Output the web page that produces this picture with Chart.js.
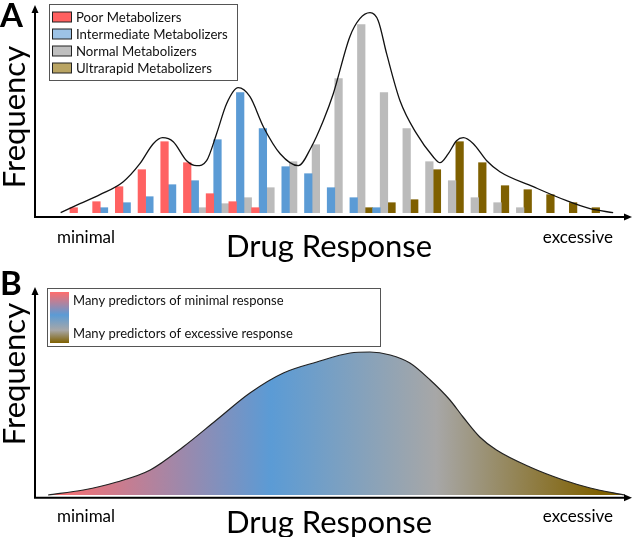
<!DOCTYPE html>
<html>
<head>
<meta charset="utf-8">
<title>Drug response distributions</title>
<script src="https://cdn.jsdelivr.net/npm/chart.js@4.4.1/dist/chart.umd.min.js"></script>
<style>
  html, body { margin: 0; padding: 0; background: #fff; }
  #wrap { width: 636px; height: 537px; }
  canvas { display: block; }
</style>
</head>
<body>
<div id="wrap">
  <canvas id="panelA" width="636" height="265"></canvas>
  <canvas id="panelB" width="636" height="272"></canvas>
</div>
<script>
// Response bins (panel A), left = minimal, right = excessive
const bins = [0, 1, 2, 3, 4, 5, 6, 7, 8, 9, 10, 11, 12, 13, 14, 15, 16, 17, 18, 19, 20, 21, 22, 23];

// Bar heights per bin for each metabolizer group
const poorValues =         [5, 11, 26, 43, 71, 50, 19, 11, 5, null, null, null, null, null, null, null, null, null, null, null, null, null, null, null];
const intermediateValues = [null, 5, 10, 16, 28, 32, 73, 120, 84, 46, 39, 25, 15, 5, null, null, null, null, null, null, null, null, null, null];
const normalValues =       [null, null, null, null, null, 5, 9, 15, 25, 51, 68, 134, 188, 120, 84, 51, 32, 15, 10, 5, null, null, null, null];
const ultrarapidValues =   [null, null, null, null, null, null, null, null, null, null, null, null, null, 5, 10, 13, 43, 71, 50, 27, 23, 18, 10, 5];

// Envelope curve over the whole population (panel A)
const envelopeX = [-0.91, -0.06, 0.82, 1.85, 2.58, 3.17, 3.58, 4.05, 4.64, 5.08, 5.52, 5.96, 6.40, 6.91, 7.43, 8.02, 8.76, 9.56, 10.14, 10.66, 11.10, 11.83, 12.27, 12.72, 13.08, 13.45, 14.04, 14.77, 15.50, 15.80, 16.17, 16.53, 16.83, 17.27, 17.86, 18.44, 19.91, 21.38, 22.41, 23.43];
const envelopeY = [0, 9, 18, 31, 49, 69, 75, 71, 52, 47, 52, 79, 109, 125, 116, 86, 59, 47, 66, 92, 119, 176, 194, 200, 192, 159, 112, 79, 56, 50, 59, 72, 75, 69, 52, 41, 26, 12, 4, 0];

// Single continuous distribution (panel B), x in 0..100 response units
const responseX = [2.2, 8.1, 13.7, 19.3, 24.8, 30.4, 36.0, 41.6, 47.2, 52.8, 56.1, 59.5, 62.8, 66.2, 69.5, 71.7, 74.5, 77.3, 82.9, 88.5, 93.0, 98.8];
const responseY = [0, 5, 13, 25, 48, 75, 102, 122, 133, 142, 143, 140, 132, 115, 95, 78, 58, 45, 28, 15, 7, 0];

const groupLabels = ['Poor Metabolizers', 'Intermediate Metabolizers', 'Normal Metabolizers', 'Ultrarapid Metabolizers'];
const predictorLabels = ['Many predictors of minimal response', 'Many predictors of excessive response'];

const fontFamily = 'Lato, "Open Sans", sans-serif';
const barColors = ['#FF6262', '#5B9BD5', '#BBBBBB', '#7F6000'];
const swatchColors = ['#FF6161', '#9DC3E6', '#BFBFBF', '#B9A463'];

// colour stops for panel B (response units)
const gradientStops = [
    { at: 2.5, color: '#FF6D6D' },
    { at: 39.5, color: '#5B9BD5' },
    { at: 67.2, color: '#A7A7A7' },
    { at: 94.6, color: '#7F6000' }
];

function toPoints(xs, ys) {
    return xs.map((x, i) => ({ x: x, y: ys[i] })).filter(p => p.y !== null);
}

// Axes with arrow heads + panel texts
const panelDecor = {
    id: 'panelDecor',
    afterDraw(chart, args, o) {
        const ctx = chart.ctx;
        const a = chart.chartArea;
        ctx.save();
        ctx.strokeStyle = '#000';
        ctx.fillStyle = '#000';
        ctx.lineWidth = 2;
        ctx.beginPath();
        ctx.moveTo(a.left, a.top + 6);
        ctx.lineTo(a.left, a.bottom);
        ctx.lineTo(a.right - 6, a.bottom);
        ctx.stroke();
        ctx.beginPath();
        ctx.moveTo(a.left, a.top);
        ctx.lineTo(a.left - 3.5, a.top + 8);
        ctx.lineTo(a.left + 3.5, a.top + 8);
        ctx.closePath();
        ctx.fill();
        ctx.beginPath();
        ctx.moveTo(a.right, a.bottom);
        ctx.lineTo(a.right - 8, a.bottom - 3.5);
        ctx.lineTo(a.right - 8, a.bottom + 3.5);
        ctx.closePath();
        ctx.fill();

        // panel letter
        ctx.font = 'bold 33px ' + fontFamily;
        ctx.textAlign = 'left';
        ctx.textBaseline = 'alphabetic';
        ctx.fillText(o.letter, 0, o.letterY);

        // axis titles
        ctx.font = '31px ' + fontFamily;
        ctx.textAlign = 'center';
        ctx.fillText('Drug Response', 329, o.xTitleY);
        ctx.save();
        ctx.translate(15, o.yTitleY);
        ctx.rotate(-Math.PI / 2);
        ctx.textBaseline = 'middle';
        ctx.fillText('Frequency', 0, 0);
        ctx.restore();

        ctx.font = '17px ' + fontFamily;
        ctx.textAlign = 'left';
        ctx.fillText('minimal', 57, o.endLabelY);
        ctx.textAlign = 'right';
        ctx.fillText('excessive', 613, o.endLabelY);
        ctx.restore();
    }
};

// Boxed legend for panel A
const groupLegend = {
    id: 'groupLegend',
    afterDraw(chart) {
        const ctx = chart.ctx;
        ctx.save();
        ctx.fillStyle = '#fff';
        ctx.fillRect(49, 4, 188, 76);
        ctx.strokeStyle = '#555';
        ctx.lineWidth = 1;
        ctx.strokeRect(49.5, 4.5, 188, 76);
        ctx.font = '13.2px ' + fontFamily;
        ctx.textBaseline = 'middle';
        groupLabels.forEach((label, i) => {
            const y = 17 + i * 17;
            ctx.fillStyle = swatchColors[i];
            ctx.fillRect(52.5, y - 5, 19, 10);
            ctx.strokeStyle = '#222';
            ctx.strokeRect(52.5, y - 5, 19, 10);
            ctx.fillStyle = '#111';
            ctx.fillText(label, 76, y + 0.5);
        });
        ctx.restore();
    }
};

// Boxed legend for panel B with a vertical colour ramp
const predictorLegend = {
    id: 'predictorLegend',
    afterDraw(chart) {
        const ctx = chart.ctx;
        ctx.save();
        ctx.fillStyle = '#fff';
        ctx.fillRect(47, 23, 333, 58);
        ctx.strokeStyle = '#555';
        ctx.lineWidth = 1;
        ctx.strokeRect(47.5, 23.5, 333, 58);
        const g = ctx.createLinearGradient(0, 27, 0, 78);
        g.addColorStop(0, '#FF6D6D');
        g.addColorStop(0.45, '#5B9BD5');
        g.addColorStop(0.75, '#A7A7A7');
        g.addColorStop(1, '#7F6000');
        ctx.fillStyle = g;
        ctx.fillRect(50, 27, 19, 51);
        ctx.font = '13px ' + fontFamily;
        ctx.fillStyle = '#111';
        ctx.textBaseline = 'middle';
        ctx.fillText(predictorLabels[0], 73, 36);
        ctx.fillText(predictorLabels[1], 73, 69);
        ctx.restore();
    }
};

const barDefaults = { order: 1, barThickness: 7.57, borderWidth: 0 };

new Chart(document.getElementById('panelA'), {
    type: 'bar',
    data: {
        datasets: [
            Object.assign({ label: groupLabels[0], data: toPoints(bins, poorValues), backgroundColor: barColors[0], stack: 'first' }, barDefaults),
            Object.assign({ label: groupLabels[1], data: toPoints(bins, intermediateValues), backgroundColor: barColors[1], stack: 'second' }, barDefaults),
            Object.assign({ label: groupLabels[2], data: toPoints(bins, normalValues), backgroundColor: barColors[2], stack: 'third' }, barDefaults),
            // ultrarapid bars sit in the same slot as the poor ones
            Object.assign({ label: groupLabels[3], data: toPoints(bins, ultrarapidValues), backgroundColor: barColors[3], stack: 'first' }, barDefaults),
            {
                type: 'line',
                label: 'All',
                data: toPoints(envelopeX, envelopeY),
                borderColor: '#111',
                borderWidth: 1.3,
                pointRadius: 0,
                fill: false,
                cubicInterpolationMode: 'monotone',
                order: 0
            }
        ]
    },
    options: {
        responsive: false,
        animation: false,
        layout: { padding: { left: 35, right: 4, top: 5, bottom: 48 } },
        scales: {
            x: { type: 'linear', min: -2.04, max: 24.26, offset: false, display: false },
            y: { min: -4.3, max: 207.7, display: false }
        },
        plugins: {
            legend: { display: false },
            tooltip: { enabled: false },
            panelDecor: { letter: 'A', letterY: 27, yTitleY: 117, xTitleY: 257, endLabelY: 243 }
        }
    },
    plugins: [panelDecor, groupLegend]
});

function responseGradient(chart) {
    const area = chart.chartArea;
    if (!area) return '#5B9BD5';
    const xs = chart.scales.x;
    const x0 = xs.getPixelForValue(gradientStops[0].at);
    const x1 = xs.getPixelForValue(gradientStops[gradientStops.length - 1].at);
    const g = chart.ctx.createLinearGradient(x0, 0, x1, 0);
    gradientStops.forEach(s => {
        g.addColorStop((xs.getPixelForValue(s.at) - x0) / (x1 - x0), s.color);
    });
    return g;
}

new Chart(document.getElementById('panelB'), {
    type: 'line',
    data: {
        datasets: [{
            label: 'Drug response',
            data: toPoints(responseX, responseY),
            fill: 'origin',
            backgroundColor: (c) => responseGradient(c.chart),
            borderColor: '#222',
            borderWidth: 1.2,
            pointRadius: 0,
            cubicInterpolationMode: 'monotone'
        }]
    },
    options: {
        responsive: false,
        animation: false,
        layout: { padding: { left: 35, right: 4, top: 22, bottom: 39.3 } },
        scales: {
            x: { type: 'linear', min: 0, max: 100, display: false },
            y: { min: -2.7, max: 208, display: false }
        },
        plugins: {
            legend: { display: false },
            tooltip: { enabled: false },
            panelDecor: { letter: 'B', letterY: 30, yTitleY: 109, xTitleY: 268, endLabelY: 257 }
        }
    },
    plugins: [panelDecor, predictorLegend]
});
</script>
</body>
</html>
